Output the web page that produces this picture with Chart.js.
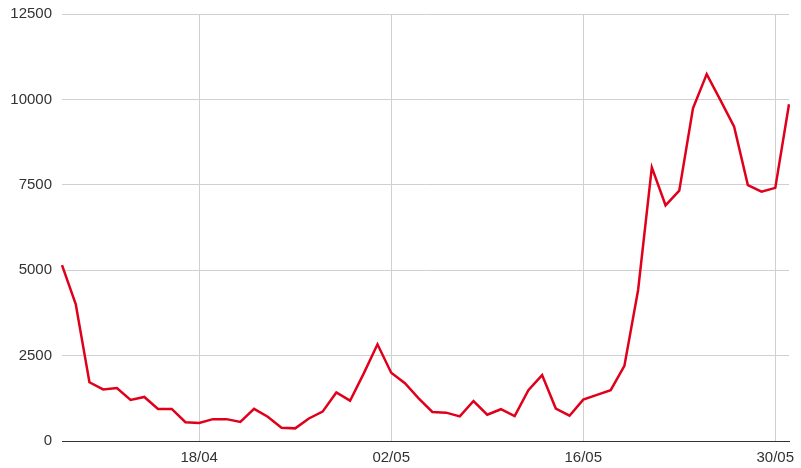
<!DOCTYPE html>
<html>
<head>
<meta charset="utf-8">
<script src="https://cdn.jsdelivr.net/npm/chart.js@4"></script>
<style>
  html, body { margin: 0; padding: 0; background: #fff; }
  #wrap { width: 801px; height: 468px; position: relative; }
</style>
</head>
<body>
<div id="wrap"><canvas id="c"></canvas></div>
<script>
const dates = [
  "08/04","09/04","10/04","11/04","12/04","13/04","14/04","15/04","16/04","17/04",
  "18/04","19/04","20/04","21/04","22/04","23/04","24/04","25/04","26/04","27/04",
  "28/04","29/04","30/04","01/05","02/05","03/05","04/05","05/05","06/05","07/05",
  "08/05","09/05","10/05","11/05","12/05","13/05","14/05","15/05","16/05","17/05",
  "18/05","19/05","20/05","21/05","22/05","23/05","24/05","25/05","26/05","27/05",
  "28/05","29/05","30/05","31/05"
];
const values = [
  5150, 4010, 1720, 1510, 1550, 1200, 1290, 940, 940, 550,
  530, 640, 640, 560, 940, 710, 390, 370, 660, 860,
  1420, 1180, 1980, 2830, 2000, 1690, 1250, 850, 830, 720,
  1170, 770, 930, 730, 1490, 1930, 950, 740, 1210, 1350,
  1490, 2200, 4420, 8010, 6900, 7330, 9740, 10740, 9980, 9200,
  7490, 7300, 7410, 9860
];
const xTickLabels = ["18/04", "02/05", "16/05", "30/05"];
const yTicks = [0, 2500, 5000, 7500, 10000, 12500];

const FONT = "'Liberation Sans', Arial, sans-serif";

new Chart(document.getElementById('c'), {
  type: 'line',
  data: {
    labels: dates,
    datasets: [{
      data: values,
      borderColor: '#e0001b',
      borderWidth: 2.5,
      pointRadius: 0,
      tension: 0,
      fill: false
    }]
  },
  options: {
    responsive: true,
    maintainAspectRatio: false,
    animation: false,
    layout: { padding: { top: 14, right: 12, left: 0, bottom: 0 } },
    plugins: { legend: { display: false }, tooltip: { enabled: false } },
    scales: {
      x: {
        type: 'category',
        offset: false,
        afterBuildTicks: (scale) => {
          scale.ticks = scale.ticks.filter(t => xTickLabels.includes(dates[t.value]));
        },
        afterFit: (scale) => {
          scale.height = 27;
          scale.paddingLeft = 0;
          scale.paddingRight = 0;
        },
        ticks: {
          autoSkip: false,
          maxRotation: 0,
          padding: 8,
          color: '#333',
          font: { family: FONT, size: 15 },
          callback: function (v) { return dates[v]; }
        },
        grid: { color: '#d0d0d0', lineWidth: 1, drawTicks: false },
        border: { display: true, color: '#333', width: 1 }
      },
      y: {
        min: 0,
        max: 12500,
        afterBuildTicks: (scale) => { scale.ticks = yTicks.map(v => ({ value: v })); },
        afterFit: (scale) => {
          scale.width = 62;
          scale.paddingTop = 0;
          scale.paddingBottom = 0;
        },
        ticks: {
          padding: 10,
          color: '#333',
          font: { family: FONT, size: 15 },
          callback: (v) => String(v)
        },
        grid: { color: '#d0d0d0', lineWidth: 1, drawTicks: false },
        border: { display: false }
      }
    }
  }
});
</script>
</body>
</html>
